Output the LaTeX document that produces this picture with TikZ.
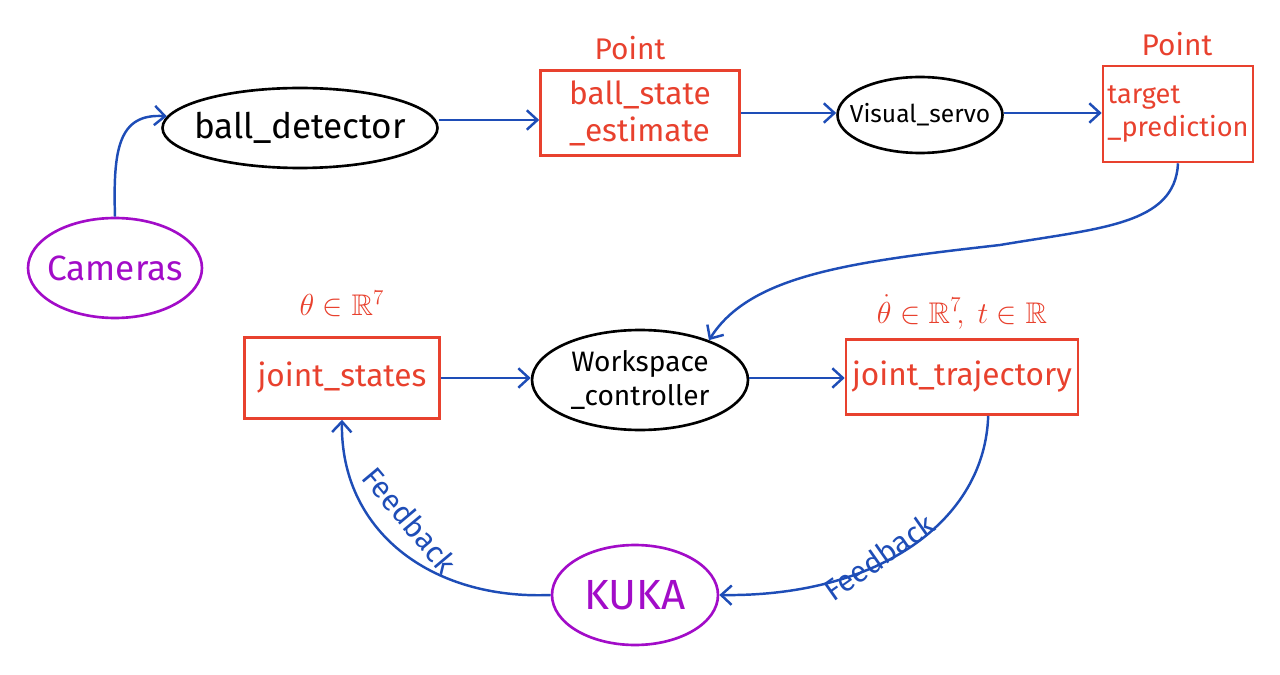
\documentclass[tikz,border=0pt]{standalone}
\usepackage{amssymb}
\usepackage{fontspec}
\setmainfont{Fira Sans}
\usetikzlibrary{shapes.geometric,arrows.meta}
\definecolor{myred}{HTML}{E8412E}
\definecolor{mypurple}{HTML}{A20CC8}
\definecolor{myblue}{HTML}{1E4DB7}
\tikzset{
  ell/.style={ellipse, draw=black, line width=1.5pt, inner xsep=-8pt, inner ysep=0pt, font=\fontsize{20}{23}\selectfont},
  pell/.style={ellipse, draw=mypurple, line width=1.5pt, inner xsep=-8pt, inner ysep=0pt, text=mypurple},
  rbox/.style={rectangle, draw=myred, line width=1.5pt, text=myred, inner sep=0pt, font=\fontsize{18}{21}\selectfont},
  rlab/.style={text=myred, font=\fontsize{17}{20}\selectfont},
  conn/.style={draw=myblue, line width=1.4pt, -{Straight Barb[length=6pt,width=11pt,line width=1.4pt]}},
  fb/.style={text=myblue, font=\fontsize{17}{20}\selectfont}
}
\begin{document}
\begin{tikzpicture}[x=0.02cm,y=-0.02cm]
\useasboundingbox (0,0) rectangle (1280,675);
% nodes
\node[ell, minimum width=5.5cm, minimum height=1.6cm] (bd) at (300,128) {ball\_detector};
\node[rbox, minimum width=3.98cm, minimum height=1.7cm, align=left] (bse) at (640,113) {ball\_state\\\_estimate};
\node[rlab] (p1) at (630,48) {Point};
\node[ell, minimum width=3.3cm, minimum height=1.52cm, font=\fontsize{14}{17}\selectfont] (vs) at (920,115) {Visual\_servo};
\node[rbox, minimum width=3.0cm, minimum height=1.92cm, align=left, font=\fontsize{15.5}{19}\selectfont] (tp) at (1178,114) {target\\\_prediction};
\node[rlab] (p2) at (1177,44) {Point};
\node[pell, minimum width=3.48cm, minimum height=2.0cm, font=\fontsize{20}{23}\selectfont] (cam) at (115,268) {Cameras};
\node[ell, minimum width=4.32cm, minimum height=2.0cm, align=center, font=\fontsize{16}{19}\selectfont] (ws) at (640,380) {Workspace\\\_controller};
\node[rbox, minimum width=3.9cm, minimum height=1.62cm] (js) at (342,378) {joint\_states};
\node[rlab] (l1) at (342,304) {$\theta\in\mathbb{R}^7$};
\node[rlab] (l2) at (962,312) {$\dot\theta\in\mathbb{R}^7\!,\ t\in\mathbb{R}$};
\node[rbox, minimum width=4.64cm, minimum height=1.5cm] (jt) at (962,377) {joint\_trajectory};
\node[pell, minimum width=3.32cm, minimum height=2.0cm, font=\fontsize{24}{28}\selectfont] (kuka) at (635,595) {KUKA};
% connectors
\draw[conn] (cam.north) .. controls (113,150) and (118,113) .. (bd.175);
\draw[conn] (bd.east |- 0,120) -- (bse.west |- 0,120);
\draw[conn] (bse.east |- 0,113) -- (vs.west |- 0,113);
\draw[conn] (vs.east |- 0,113) -- (tp.west |- 0,113);
\draw[conn] (tp.south) .. controls (1175,225) and (1100,228) .. (1000,245) .. controls (850,262) and (750,275) .. (ws.30);
\draw[conn] (js.east) -- (ws.west |- js.east);
\draw[conn] (ws.east |- 0,378) -- (jt.west |- 0,378);
\draw[conn] (jt.-56) .. controls (985,520) and (880,597) .. (kuka.east);
\draw[conn] (kuka.west) .. controls (430,600) and (340,530) .. (js.south);
\node[fb, rotate=35] (fb1) at (879,557) {Feedback};
\node[fb, rotate=-50] (fb2) at (410,520) {Feedback};
\end{tikzpicture}
\end{document}
